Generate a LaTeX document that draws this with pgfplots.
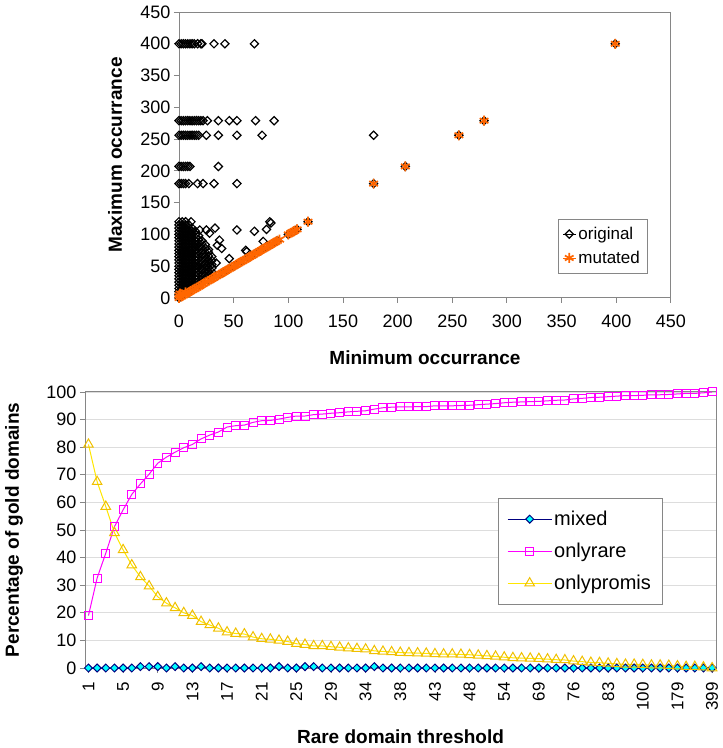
\documentclass[border=0pt]{standalone}
\usepackage{fontspec}
\setmainfont{Liberation Sans}
\usepackage{pgfplots}
\usepackage{pgfplotstable}
\pgfplotsset{compat=1.18}

\definecolor{framec}{HTML}{868686}
\definecolor{gridc}{HTML}{DDDDDD}
\definecolor{mutorange}{HTML}{FF6600}
\definecolor{navyc}{HTML}{000080}
\definecolor{aquac}{HTML}{00FFFF}
\definecolor{pinkc}{HTML}{FF00FF}
\definecolor{yelline}{HTML}{FFE600}
\definecolor{yelmark}{HTML}{F0C000}

% rare domain threshold table (category index, values in %)
\pgfplotstableread{
i  mixed onlyrare onlypromis
0  0   19   81
1  0   32.6 67.5
2  0   41.6 58.5
3  0   51.2 49
4  0   57.3 42.8
5  0   62.9 37.3
6  0.5 66.7 33
7  0.5 70.2 29.7
8  0.5 74.2 25.8
9  0   76.4 23.5
10 0.5 78.2 21.8
11 0   79.8 20
12 0   81   19
13 0.5 83   16.8
14 0   84.4 15.6
15 0   85.5 14.4
16 0   87.3 13
17 0   87.8 12.5
18 0   88   12.3
19 0   89   11.2
20 0   89.6 10.6
21 0   89.7 10.4
22 0.5 90.2 10
23 0   90.8 9.6
24 0   91.3 8.8
25 0.5 91.3 8.5
26 0.5 91.8 8
27 0   92   8
28 0   92.3 7.7
29 0   92.5 7.5
30 0   92.8 7.2
31 0   93   7
32 0   93.2 6.8
33 0.5 93.8 6.2
34 0   94.3 6
35 0   94.5 5.8
36 0   94.6 5.6
37 0   94.6 5.5
38 0   94.7 5.4
39 0   94.7 5.3
40 0   95   5.1
41 0   95   5
42 0   95   5
43 0   95.1 4.9
44 0   95.2 4.8
45 0   95.4 4.6
46 0   95.6 4.4
47 0   95.8 4.2
48 0   96.1 3.9
49 0   96.3 3.7
50 0   96.4 3.6
51 0   96.5 3.5
52 0   96.6 3.4
53 0   96.8 3.2
54 0   97   3
55 0   97.1 2.9
56 0   97.5 2.5
57 0   97.7 2.3
58 0   98   2
59 0   98.1 1.9
60 0   98.3 1.7
61 0   98.5 1.5
62 0   98.7 1.3
63 0   98.7 1.3
64 0   98.8 1.2
65 0   99   1
66 0   99   1
67 0   99.1 0.9
68 0   99.3 0.7
69 0   99.5 0.5
70 0   99.5 0.5
71 0   99.7 0.3
72 0   100  0
}\raretable

\begin{document}
\begin{tikzpicture}[x=1pt,y=1pt]
\useasboundingbox (0,0) rectangle (723,748);

% ---- top: min vs max occurrence ----
\begin{axis}[
  scale only axis, width=492pt, height=286pt,
  at={(179pt,450pt)}, anchor=south west,
  xmin=0, xmax=450, ymin=0, ymax=450,
  xtick={0,50,...,450}, ytick={0,50,...,450},
  tick align=outside, xtick pos=bottom, ytick pos=left,
  major tick length=5pt,
  axis line style={framec, line width=1pt},
  tick style={framec, line width=1pt},
  /pgf/number format/assume math mode=true,
  ticklabel style={font=\fontsize{18}{20}\selectfont},
  xticklabel style={yshift=-8pt},
  xlabel={Minimum occurrance}, ylabel={Maximum occurrance},
  label style={font=\fontsize{19}{22}\selectfont\bfseries},
  xlabel style={at={(axis description cs:0.5,-0.21)}, anchor=center},
  ylabel style={at={(axis description cs:-0.13,0.5)}, anchor=center},
  clip=false,
  legend style={at={(0.770,0.276)}, anchor=north west, draw=framec,
    font=\fontsize{17}{19}\selectfont, row sep=6pt, inner xsep=5pt, inner ysep=6pt},
  legend cell align=left,
  legend image code/.code={\path (0pt,0pt) -- (13pt,0pt); \draw[#1] plot coordinates {(6pt,0pt)};},
]
\addplot[black, only marks, mark=square, mark size=2.9pt,
  mark options={rotate=45, line width=1.2pt}]
  coordinates {
  (0,400)(2,400)(4,400)(6,400)(8,400)(10,400)(12,400)(14,400)(17,400)(20,400)(21,400)(32,400)(42,400)(69,400)
  (0,279)(2,279)(4,279)(6,279)(8,279)(10,279)(12,279)(14,279)(16,279)(18,279)(20,279)(22,279)(26,279)(36,279)(46,279)(53,279)(70,279)(87,279)
  (0,256)(2,256)(4,256)(6,256)(8,256)(10,256)(12,256)(14,256)(16,256)(18,256)(25,256)(36,256)(53,256)(76,256)(178,256)
  (0,207)(2,207)(4,207)(6,207)(8,207)(10,207)(36,207)
  (0,180)(2,180)(4,180)(6,180)(9,180)(17,180)(22,180)(32,180)(53,180)
  (178,180)(207,207)(256,256)(279,279)(399,400)
  (0,0)(0,5)(0,10)(0,15)(0,20)(0,25)(0,30)(0,35)(0,40)(0,45)(0,50)(0,55)(0,60)(0,65)(0,70)(0,75)(0,80)(0,85)(0,90)(0,95)(0,100)(0,105)(0,110)(0,115)(0,120)
  (3,5)(3,10)(3,15)(3,20)(3,25)(3,30)(3,35)(3,40)(3,45)(3,50)(3,55)(3,60)(3,65)(3,70)(3,75)(3,80)(3,85)(3,90)(3,95)(3,100)(3,105)(3,110)(3,115)(3,120)
  (6,10)(6,15)(6,20)(6,25)(6,30)(6,35)(6,40)(6,45)(6,50)(6,55)(6,60)(6,65)(6,70)(6,75)(6,80)(6,85)(6,90)(6,95)(6,100)(6,105)(6,110)(6,115)(6,120)
  (9,10)(9,15)(9,20)(9,25)(9,30)(9,35)(9,40)(9,45)(9,50)(9,55)(9,60)(9,65)(9,70)(9,75)(9,80)(9,85)(9,90)(9,95)(9,100)(9,105)(9,110)(9,115)(11,120)
  (12,15)(12,20)(12,25)(12,30)(12,35)(12,40)(12,45)(12,50)(12,55)(12,60)(12,65)(12,70)(12,75)(12,80)(12,85)(12,90)(12,95)(12,100)(12,105)(12,110)
  (15,20)(15,25)(15,30)(15,35)(15,40)(15,45)(15,50)(15,55)(15,60)(15,65)(15,70)(15,75)(15,80)(15,85)(15,90)(15,95)(15,100)(15,105)
  (18,20)(18,26)(18,32)(18,38)(18,44)(18,50)(18,56)(18,62)(18,68)(18,74)(18,80)(18,86)(18,92)(18,98)
  (21,25)(21,31)(21,37)(21,43)(21,49)(21,55)(21,61)(21,67)(21,73)(21,79)(21,85)(21,90)
  (24,30)(24,36)(24,42)(24,48)(24,54)(24,60)(24,66)(24,72)(24,78)(24,84)
  (27,30)(27,36)(27,42)(27,48)(27,54)(27,60)(27,66)(27,72)(27,76)
  (30,35)(30,41)(30,47)(30,53)(30,59)(30,65)
  (19,107)(25,107)(28,102)(33,110)(37,91)(35,83)(39,78)(46,62)(53,107)(61,75)(62,73)
  (69,105)(77,89)(80,108)(83,120)(84,118)(25,50)(21,45)(34,55)
  (35,35)(40,40)(45,45)(50,50)(55,55)(60,60)(65,65)(70,70)(75,75)(80,80)(85,85)(90,90)(100,100)(105,105)(108,108)(118,120)
  };
\addlegendentry{original}
\addplot[mutorange, only marks, mark=asterisk, mark size=5pt,
  mark options={line width=1.7pt}]
  coordinates {
  (0,0)(0,4)(1,7)(2,2)(4,4)(6,6)(6,9)(8,8)(10,10)(12,12)(14,14)(16,16)(18,18)(20,20)(22,22)(24,24)(26,26)(28,28)(30,30)
  (32,32)(34,34)(36,36)(38,38)(40,40)(42,42)(44,44)(46,46)(48,48)(50,50)(52,52)(54,54)(56,56)(58,58)(60,60)
  (62,62)(64,64)(66,66)(68,68)(70,70)(72,72)(74,74)(76,76)(78,78)(80,80)(82,82)(84,84)(86,86)(88,88)(90,90)(92,92)
  (100,100)(102,102)(104,104)(106,106)(108,108)(118,120)
  (178,180)(207,207)(256,256)(279,279)(399,400)
  };
\addlegendentry{mutated}
\end{axis}

% ---- bottom: rare domain threshold ----
\begin{axis}[
  scale only axis, width=631pt, height=276pt,
  at={(85pt,80pt)}, anchor=south west,
  xmin=-0.4, xmax=72.45, ymin=0, ymax=100,
  xtick={0,4,...,72},
  xticklabels={1,5,9,13,17,21,25,29,34,38,43,48,54,69,76,83,100,179,399},
  minor xtick={0,1,...,72},
  ytick={0,10,...,100},
  ymajorgrids, grid style={gridc, line width=0.8pt},
  tick align=outside, xtick pos=bottom, ytick pos=left,
  major tick length=5pt, minor tick length=3pt,
  axis line style={framec, line width=1pt},
  tick style={framec, line width=0.8pt},
  /pgf/number format/assume math mode=true,
  ticklabel style={font=\fontsize{18}{20}\selectfont},
  xticklabel style={rotate=90, anchor=east, font=\fontsize{17}{19}\selectfont, xshift=-6pt},
  xlabel={Rare domain threshold}, ylabel={Percentage of gold domains},
  label style={font=\fontsize{19}{22}\selectfont\bfseries},
  xlabel style={at={(axis description cs:0.5,-0.25)}, anchor=center},
  ylabel style={at={(axis description cs:-0.1125,0.5)}, anchor=center},
  clip=false,
  legend style={at={(0.6545,0.616)}, anchor=north west, draw=framec,
    font=\fontsize{20}{22}\selectfont, row sep=12pt, inner xsep=9pt, inner ysep=11pt},
  legend cell align=left,
  legend image code/.code={\draw[mark repeat=2,mark phase=2,#1] plot coordinates {(0pt,0pt)(22pt,0pt)(44pt,0pt)};},
]
\addplot[navyc, line width=1pt, mark=square*, mark size=2.8pt,
  mark options={rotate=45, fill=aquac}]
  table[x=i, y=mixed] {\raretable};
\addlegendentry{mixed}
\addplot[pinkc, line width=1pt, mark=square, mark size=4pt]
  table[x=i, y=onlyrare] {\raretable};
\addlegendentry{onlyrare}
\addplot[yelline, line width=1pt, mark=triangle, mark size=5.5pt,
  mark options={draw=yelmark}]
  table[x=i, y=onlypromis] {\raretable};
\addlegendentry{onlypromis}
\end{axis}
\end{tikzpicture}
\end{document}
